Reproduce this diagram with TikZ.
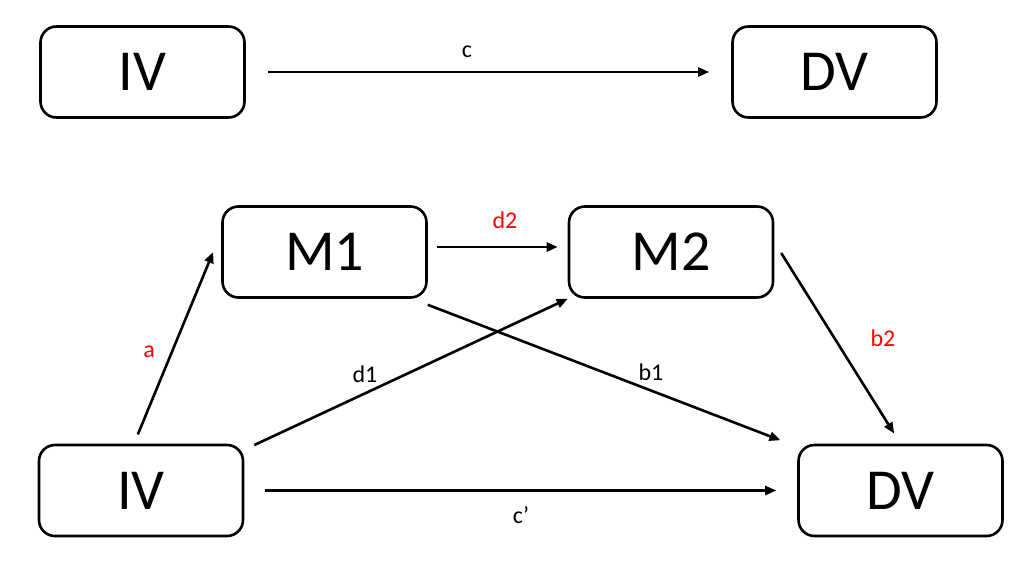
\documentclass[tikz,border=0pt]{standalone}
\usepackage{fontspec}
\setmainfont{Carlito}
\usetikzlibrary{arrows.meta}
\begin{document}
\begin{tikzpicture}[x=1pt,y=-1pt,
  box/.style={draw,line width=2.6pt,rounded corners=16pt,minimum width=204pt,minimum height=91pt,inner sep=0pt,font=\fontsize{58}{60}\selectfont},
  conn/.style={line width=2.6pt,-{Triangle[length=11pt,width=9pt]}},
  lab/.style={font=\fontsize{24}{26}\selectfont,inner sep=0pt},
  redlab/.style={lab,text={rgb,255:red,255;green,0;blue,0}}]
\useasboundingbox (0,0) rectangle (1024,562);
\node[box] (IVt) at (142.5,72) {IV};
\node[box] (DVt) at (834.5,72) {DV};
\node[box] (M1) at (324.5,252) {M1};
\node[box] (M2) at (671,252) {M2};
\node[box] (IVb) at (141,490.5) {IV};
\node[box] (DVb) at (900.5,490.5) {DV};
\draw[conn,shorten <=22pt,shorten >=22pt] (IVt.east) -- (DVt.west);
\draw[conn,shorten <=10pt] ([xshift=-7pt]IVb.north) -- ([xshift=-8pt]M1.west);
\draw[conn,shorten <=9pt,shorten >=10pt] ([yshift=5pt]M1.east) -- ([yshift=5pt]M2.west);
\draw[conn,shorten <=11pt] ([yshift=-6pt]IVb.north east) -- (M2.south west);
\draw[conn,shorten <=0pt,shorten >=18pt] ([yshift=-6pt]M1.south east) -- ([yshift=-3pt]DVb.north west);
\draw[conn,shorten <=13pt,shorten >=12pt] ([yshift=10pt]M2.east) -- (DVb.north);
\draw[conn,shorten <=21pt,shorten >=21pt] (IVb.east) -- (DVb.west);
\node[lab] (lc) at (467,52) {c};
\node[redlab] (la) at (149,352) {a};
\node[redlab] (ld2) at (505,220) {d2};
\node[lab] (ld1) at (365,374) {d1};
\node[lab] (lb1) at (651,372) {b1};
\node[redlab] (lb2) at (883,338) {b2};
\node[lab] (lcp) at (521,515) {c’};
\end{tikzpicture}
\end{document}
